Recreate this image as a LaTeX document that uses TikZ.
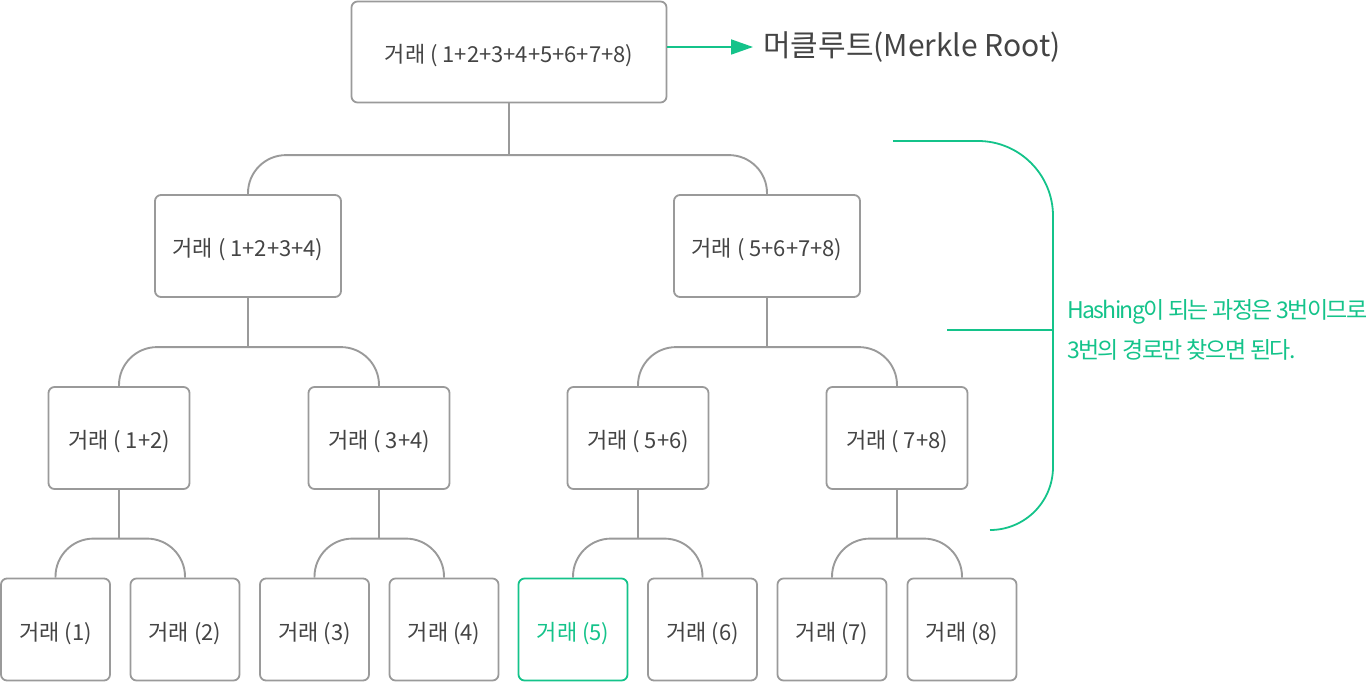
\documentclass[tikz,border=0pt]{standalone}
\usepackage{fontspec}
\setmainfont{Noto Sans CJK KR}
\usepackage{tikz}
\usetikzlibrary{arrows.meta, calc}

\definecolor{mgreen}{HTML}{14C38A}
\definecolor{mgray}{HTML}{9A9A9A}
\definecolor{mtext}{HTML}{444444}

\tikzset{
  tx/.style={draw=mgray, line width=1.8pt, rounded corners=6pt, fill=white, text=mtext,
    font=\fontsize{22}{26}\selectfont, inner sep=0pt, minimum height=102pt,
    text height=22pt, text depth=1pt},
  link/.style={draw=mgray, line width=1.9pt},
  fork/.style={link, rounded corners=38pt},
  bracket/.style={draw=mgreen, line width=1.8pt}
}

\begin{document}
\begin{tikzpicture}[x=1pt, y=-1pt]
\useasboundingbox (0,0) rectangle (1370,682);

% leaves
\foreach \i/\x in {1/55.5,2/185,3/314.5,4/444,6/702.5,7/832,8/962}
	\node[tx, minimum width=109pt] (t\i) at (\x,629.5) {거래 (\i)};
\node[tx, minimum width=109pt, draw=mgreen, text=mgreen] (t5) at (573,629.5) {거래 (5)};

\node[tx, minimum width=141pt] (h12) at (119,438) {거래 ( 1+2)};
\node[tx, minimum width=141pt] (h34) at (379,438) {거래 ( 3+4)};
\node[tx, minimum width=141pt] (h56) at (638,438) {거래 ( 5+6)};
\node[tx, minimum width=141pt] (h78) at (897,438) {거래 ( 7+8)};

\node[tx, minimum width=186pt] (h1234) at (248,246) {거래 ( 1+2+3+4)};
\node[tx, minimum width=186pt] (h5678) at (767,246) {거래 ( 5+6+7+8)};

\node[tx, minimum width=315pt, minimum height=101pt] (root) at (509,52) {거래 ( 1+2+3+4+5+6+7+8)};

% forks
\foreach \p/\a/\b in {root/h1234/h5678, h1234/h12/h34, h5678/h56/h78,
                      h12/t1/t2, h34/t3/t4, h56/t5/t6, h78/t7/t8}
{
	\coordinate (br) at ($(\a.north)+(0,-39)$);
	\draw[link] (\p.south) -- (\p.south |- br);
	\draw[fork] (\a.north) |- (\p.south |- br);
	\draw[fork] (\b.north) |- (\p.south |- br);
}

\node[anchor=west, inner sep=0pt, text=mtext, font=\fontsize{30}{34}\selectfont] (mr) at (763,47) {머클루트(Merkle Root)};
\draw[mgreen, line width=1.8pt, -{Triangle[length=22pt, width=15pt]}] (root.east |- mr.west) -- ([xshift=-10pt]mr.west);

\draw[bracket] (893,141) -- (978,141) .. controls (1019.4,141) and (1053,174.6) .. (1053,216)
	-- (1053,467) .. controls (1053,501.8) and (1024.8,530) .. (990,530);
\draw[bracket] (947,330) -- (1053,330);

\node[anchor=west, align=left, inner sep=0pt, text=mgreen,
	font=\fontsize{23}{40}\selectfont\addfontfeature{LetterSpace=-7}] (note) at (1067,330)
	{Hashing이 되는 과정은 3번이므로\\3번의 경로만 찾으면 된다.};
\end{tikzpicture}
\end{document}
